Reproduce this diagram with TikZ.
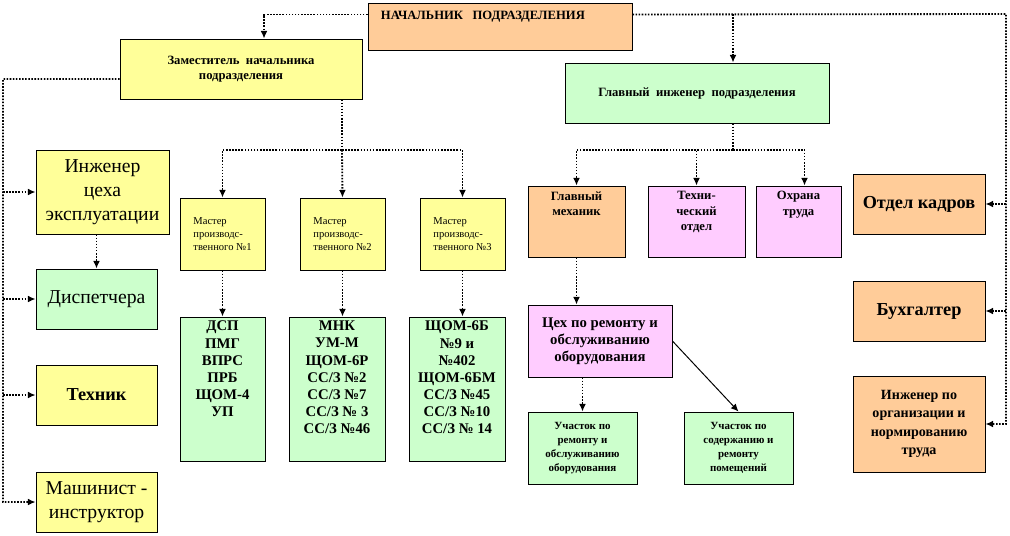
\documentclass[tikz,border=0pt]{standalone}
\usepackage{fontspec}
\setmainfont{Liberation Serif}
\usetikzlibrary{arrows.meta,positioning}
\definecolor{peach}{RGB}{255,204,153}
\definecolor{lemon}{RGB}{255,255,153}
\definecolor{mint}{RGB}{204,255,204}
\definecolor{lilac}{RGB}{255,204,255}

\begin{document}
\begin{tikzpicture}[x=0.025cm,y=-0.025cm,
    box/.style={draw,line width=0.6pt,align=center,inner sep=2pt},
    orbox/.style={box,fill=peach},
    yebox/.style={box,fill=lemon},
    grbox/.style={box,fill=mint},
    pibox/.style={box,fill=lilac},
    toptext/.style={anchor=north,align=center,inner sep=3pt},
    small/.style={font=\fontsize{9}{11}\selectfont\bfseries},
    big/.style={font=\fontsize{14}{17}\selectfont},
    bigb/.style={font=\fontsize{13}{16}\selectfont\bfseries},
    list/.style={font=\fontsize{10.5}{12.2}\selectfont\bfseries},
    tiny/.style={font=\fontsize{7.5}{9}\selectfont},
    dots/.style={dash pattern=on 1.1pt off 1.1pt,line width=1.3pt},
    link/.style={-{Latex[length=1.9mm,width=1.7mm]},dots},
    linksolid/.style={-{Latex[length=1.9mm,width=1.7mm]},line width=0.7pt},
]
\useasboundingbox (0,0) rectangle (1010,535);

% top level
\node[orbox,minimum width=6.6cm,minimum height=1.175cm] (nach) at (500,26.5) {};
\node[anchor=west,font=\fontsize{9}{11}\selectfont\bfseries] at (376,17)
    {НАЧАЛЬНИК\ \ \ ПОДРАЗДЕЛЕНИЯ};
\node[yebox,small,minimum width=6.05cm,minimum height=1.5cm] (zam) at (241,69)
    {Заместитель\ \ начальника\\подразделения};
\node[grbox,small,minimum width=6.6cm,minimum height=1.5cm] (gi) at (697,93)
    {Главный\ \ инженер\ \ подразделения};

% left column
\node[yebox,big,minimum width=3.325cm,minimum height=2.1cm] (ince) at (102.5,192)
    {Инженер\\цеха\\эксплуатации};
\node[grbox,big,minimum width=3.025cm,minimum height=1.5cm] (disp) at (96.5,299) {Диспетчера};
\node[yebox,bigb,minimum width=3.025cm,minimum height=1.5cm] (tech) at (96.5,395) {Техник};
\node[yebox,big,minimum width=3.025cm,minimum height=1.5cm] (mash) at (96.5,502)
    {Машинист -\\инструктор};

% masters
\node[yebox,tiny,align=left,minimum width=2.125cm,minimum height=1.8cm] (m1) at (222.5,234)
    {Мастер\\производс-\\твенного №1};
\node[yebox,tiny,align=left,minimum width=2.125cm,minimum height=1.8cm] (m2) at (342.5,234)
    {Мастер\\производс-\\твенного №2};
\node[yebox,tiny,align=left,minimum width=2.125cm,minimum height=1.8cm] (m3) at (462.5,234)
    {Мастер\\производс-\\твенного №3};

% machines
\node[grbox,minimum width=2.125cm,minimum height=3.6cm,
      label={[toptext,list]north:{ДСП\\ПМГ\\ВПРС\\ПРБ\\ЩОМ-4\\УП}}] (g1) at (222.5,389) {};
\node[grbox,minimum width=2.4cm,minimum height=3.6cm,
      label={[toptext,list]north:{МНК\\УМ-М\\ЩОМ-6Р\\СС/З №2\\СС/З №7\\СС/З № 3\\СС/З №46}}] (g2) at (337,389) {};
\node[grbox,minimum width=2.4cm,minimum height=3.6cm,
      label={[toptext,list]north:{ЩОМ-6Б\\№9 и\\№402\\ЩОМ-6БМ\\СС/З №45\\СС/З №10\\СС/З № 14}}] (g3) at (457,389) {};

% chief engineer branch
\node[orbox,minimum width=2.425cm,minimum height=1.775cm,
      label={[toptext,small,inner sep=4pt]north:{Главный\\механик}}] (gm) at (576.5,221.5) {};
\node[pibox,minimum width=2.425cm,minimum height=1.775cm,
      label={[toptext,small,inner sep=4pt]north:{Техни-\\ческий\\отдел}}] (to) at (696.5,221.5) {};
\node[pibox,minimum width=2.125cm,minimum height=1.775cm,
      label={[toptext,small,inner sep=4pt]north:{Охрана\\труда}}] (ot) at (798.5,221.5) {};
\node[pibox,list,minimum width=3.6cm,minimum height=1.8cm] (cex) at (600,341)
    {Цех по ремонту и\\обслуживанию\\оборудования};
\node[grbox,font=\fontsize{7.8}{9.8}\selectfont\bfseries,minimum width=2.725cm,minimum height=1.8cm] (u1) at (582.5,448)
    {Участок по\\ремонту и\\обслуживанию\\оборудования};
\node[grbox,font=\fontsize{7.8}{9.8}\selectfont\bfseries,minimum width=2.725cm,minimum height=1.8cm] (u2) at (738.5,448)
    {Участок по\\содержанию и\\ремонту\\помещений};

% right column
\node[orbox,bigb,minimum width=3.3cm,minimum height=1.5cm] (ok) at (919,204) {Отдел кадров};
\node[orbox,bigb,minimum width=3.3cm,minimum height=1.5cm] (buh) at (919,311) {Бухгалтер};
\node[orbox,font=\fontsize{10}{13}\selectfont\bfseries,minimum width=3.3cm,minimum height=2.4cm] (ino) at (919,424)
    {Инженер по\\организации и\\нормированию\\труда};

% bus points
\coordinate (rbus) at (1006,14);
\coordinate (lbus) at (3,79);
\coordinate (mbus) at (342,150);
\coordinate (gbus) at (733,150);

% from the head
\draw[link] ([yshift=0.3cm]nach.west) -| ([xshift=0.575cm]zam.north);
\draw[link] ([yshift=0.3cm]nach.east) -- (rbus) |- (ino.east);
\draw[link] (rbus |- ok.east) -- (ok.east);
\draw[link] (rbus |- buh.east) -- (buh.east);
\draw[link] (gbus |- rbus) -- (gbus |- gi.north);

% deputy
\draw[link] ([yshift=-0.25cm]zam.west) -- (lbus) |- (mash.west);
\draw[link] (lbus |- ince.west) -- (ince.west);
\draw[link] (lbus |- disp.west) -- (disp.west);
\draw[link] (lbus |- tech.west) -- (tech.west);
\draw[link] (disp.north |- ince.south) -- (disp.north);
\draw[dots] (mbus |- zam.south) -- (mbus);
\draw[link] (mbus) -| (m1.north);
\draw[link] (mbus) -- (m2.north);
\draw[link] (mbus) -| (m3.north);
\draw[link] (m1.south) -- (m1.south |- g1.north);
\draw[link] (m2.south) -- (m2.south |- g2.north);
\draw[link] (m3.south) -- (m3.south |- g3.north);

% chief engineer
\draw[dots] (gbus |- gi.south) -- (gbus);
\draw[link] (gbus) -| (gm.north);
\draw[link] (gbus) -| (to.north);
\draw[link] (gbus) -| ([xshift=0.15cm]ot.north);
\draw[link] (gm.south) -- (gm.south |- cex.north);
\draw[link] (u1.north |- cex.south) -- (u1.north);
\draw[linksolid] (cex.east) -- (u2.north);

\end{tikzpicture}
\end{document}
